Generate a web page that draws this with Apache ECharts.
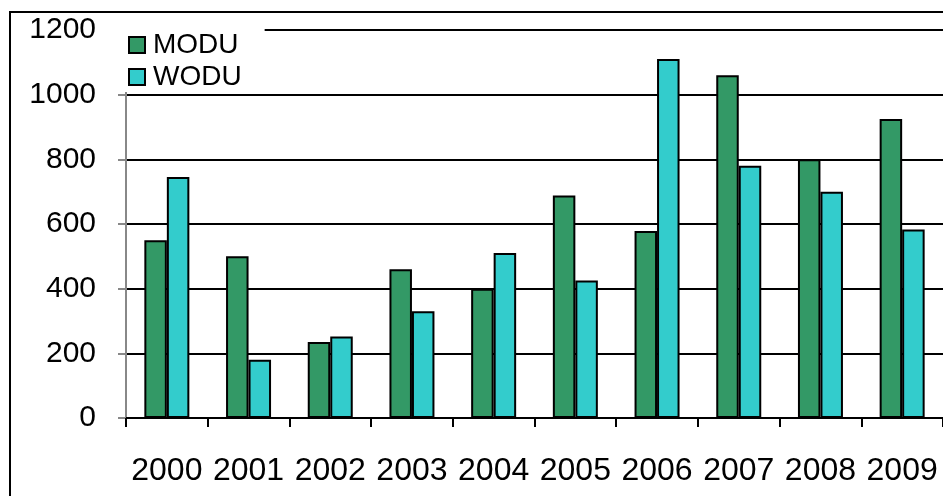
<!DOCTYPE html>
<html style="height: 100%">
<head>
  <meta charset="utf-8">
  <script src="https://cdn.jsdelivr.net/npm/echarts@6/dist/echarts.min.js"></script>
</head>
<body style="height: 100%; margin: 0; background: #fff">
<div id="container" style="width: 943px; height: 496px;"></div>
<script type="text/javascript">
var years = ['2000', '2001', '2002', '2003', '2004', '2005', '2006', '2007', '2008', '2009'];
var modu = [550, 500, 235, 460, 400, 688, 578, 1060, 800, 925];
var wodu = [745, 180, 252, 330, 510, 425, 1110, 780, 700, 583];
var yTicks = [0, 200, 400, 600, 800, 1000, 1200];

var font = '"Liberation Sans", Arial, sans-serif';
var chart = echarts.init(document.getElementById('container'));

var option = {
    animation: false,
    backgroundColor: '#fff',
    textStyle: {fontFamily: font},
    grid: {left: 126, right: -2, top: 30, bottom: 78},
    legend: {
        orient: 'vertical',
        left: 100,
        top: 20,
        padding: [11, 23, 1, 28],
        backgroundColor: '#fff',
        itemWidth: 16,
        itemHeight: 16,
        itemGap: 4,
        icon: 'rect',
        z: 10,
        textStyle: {fontFamily: font, fontSize: 28, lineHeight: 28, color: '#000', padding: [0, 0, 0, 3]},
        data: ['MODU', 'WODU']
    },
    xAxis: {
        type: 'category',
        data: years,
        axisLine: {lineStyle: {color: '#000', width: 2}},
        axisTick: {show: true, interval: 0, length: 9, lineStyle: {color: '#000', width: 2}},
        axisLabel: {interval: 0, fontSize: 32, color: '#000', margin: 37, fontFamily: font},
        splitLine: {show: false}
    },
    yAxis: {
        type: 'value',
        min: yTicks[0],
        max: yTicks[yTicks.length - 1],
        interval: 200,
        axisLine: {show: true, lineStyle: {color: '#888', width: 2}},
        axisTick: {show: true, length: 8, lineStyle: {color: '#888', width: 2}},
        axisLabel: {fontSize: 30, color: '#000', margin: 30, fontFamily: font,
            padding: [7, 0, 0, 0],
            formatter: function (v) { return String(v); }},
        splitLine: {show: true, lineStyle: {color: '#000', width: 2}}
    },
    series: [
        {
            name: 'MODU',
            type: 'bar',
            data: modu,
            barWidth: 22.5,
            barGap: '0%',
            itemStyle: {color: '#339966', borderColor: '#000', borderWidth: 2}
        },
        {
            name: 'WODU',
            type: 'bar',
            data: wodu,
            barWidth: 22.5,
            itemStyle: {color: '#33CCCC', borderColor: '#000', borderWidth: 2}
        }
    ],
    graphic: [
        {
            type: 'polyline',
            z: 100,
            shape: {points: [[10, 500], [10, 12], [950, 12]]},
            style: {stroke: '#000', lineWidth: 2, fill: null}
        }
    ]
};
chart.setOption(option);
</script>
</body>
</html>
